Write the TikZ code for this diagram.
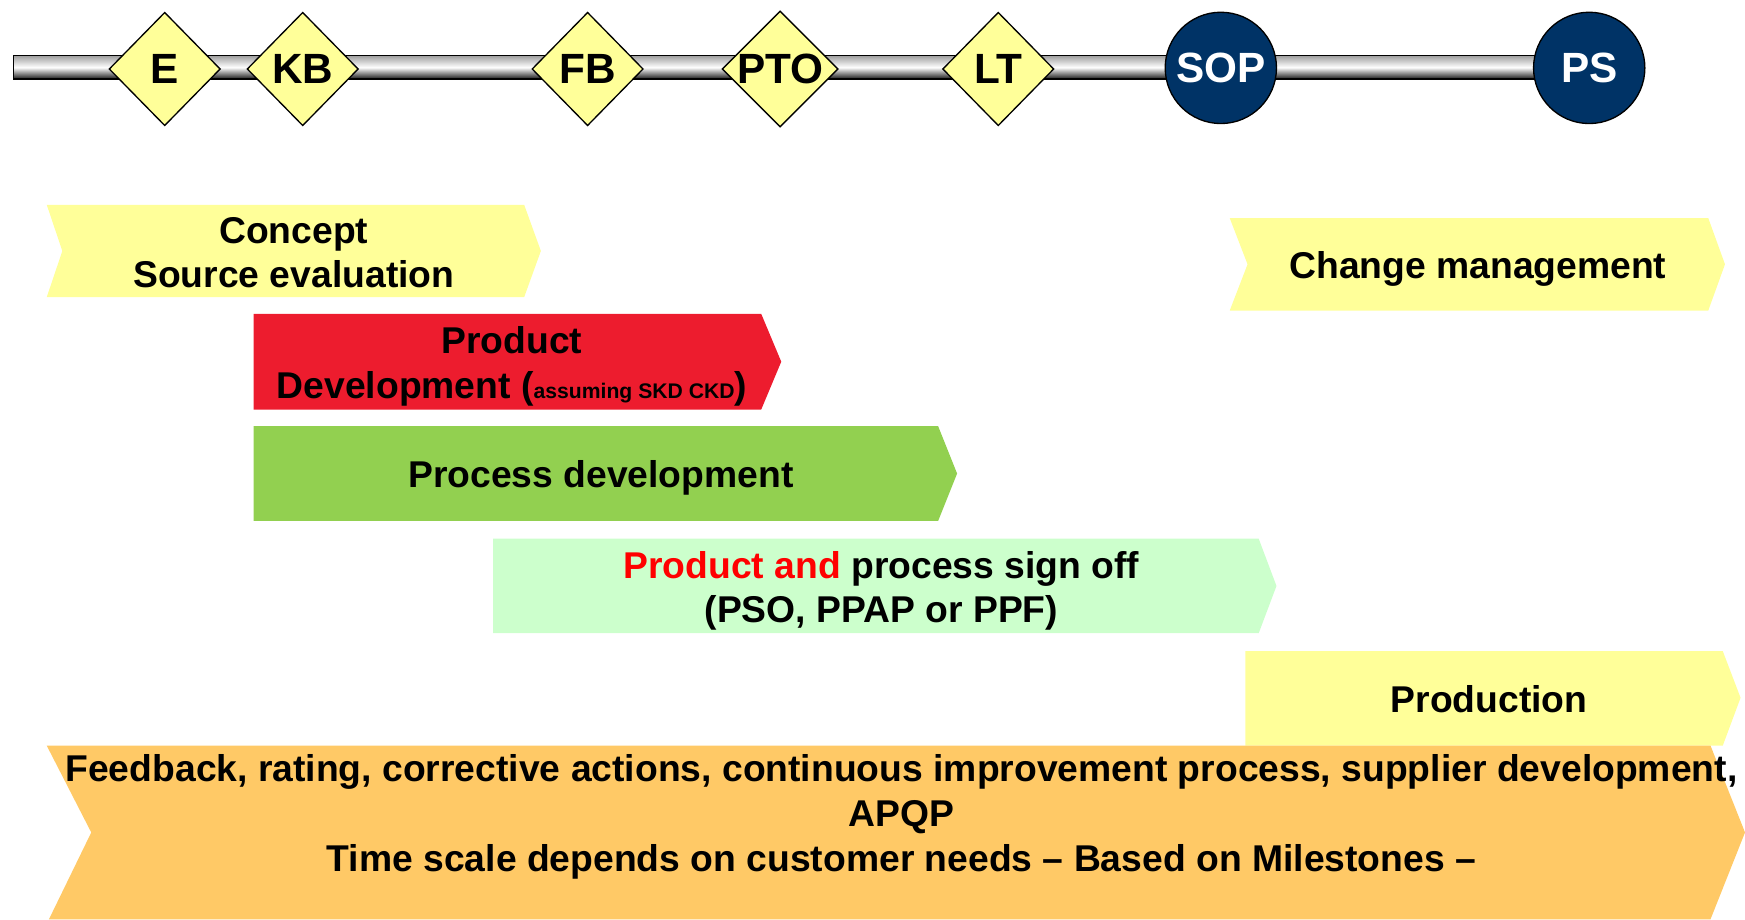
\documentclass[tikz,border=0pt]{standalone}
\usepackage{fontspec}
\setmainfont{Liberation Sans}
\usetikzlibrary{shapes.geometric}
\definecolor{msyellow}{RGB}{255,255,153}
\definecolor{msnavy}{RGB}{0,51,102}
\definecolor{pdred}{RGB}{237,28,46}
\definecolor{pdgreen}{RGB}{146,208,80}
\definecolor{sogreen}{RGB}{204,255,204}
\definecolor{fborange}{RGB}{255,201,102}
\newcommand{\phasefont}{\fontsize{16.75}{20}\selectfont\bfseries}
\newcommand{\msfont}{\fontsize{19}{22}\selectfont\bfseries}

\begin{document}
\begin{tikzpicture}[x=0.5pt, y=-0.5pt,
    milestone/.style={diamond, draw=black, line width=0.6pt, fill=msyellow,
      minimum width=50pt, minimum height=51pt, inner sep=0pt, font=\msfont},
    gate/.style={circle, draw=black, line width=0.6pt, fill=msnavy, text=white,
      minimum size=50pt, inner sep=0pt, font=\msfont},
    phase/.style={align=center, font=\phasefont}]
    \useasboundingbox (0,0) rectangle (1568,826);
    \draw[line width=0.5pt, top color=gray!75, bottom color=black!90, middle color=white]
      (12,50) rectangle (1428,71);
    \foreach \x/\lab in {148/E, 272/KB, 528/FB, 701/PTO, 897/LT}{
      \node[milestone] (ms\lab) at (\x,62) {\lab};
    }
    \foreach \x/\lab in {1097/SOP, 1428/PS}{
      \node[gate] (ms\lab) at (\x,61) {\lab};
    }
    \fill[msyellow] (42,184) -- (471,184) -- (486,225.5) -- (471,267) -- (42,267) -- (56,225.5) -- cycle;
    \node[phase] (concept) at (264,227) {Concept\\Source evaluation};
    \fill[pdred] (228,282) -- (684,282) -- (702,325) -- (684,368) -- (228,368) -- cycle;
    \node[phase] (proddev) at (460,329)
      {Product\\Development ({\fontsize{9.5}{20}\selectfont assuming SKD CKD})};
    \fill[pdgreen] (228,383) -- (843,383) -- (860,425.5) -- (843,468) -- (228,468) -- cycle;
    \node[phase] (procdev) at (540,429) {Process development};
    \fill[sogreen] (443,484) -- (1131,484) -- (1147,526.5) -- (1131,569) -- (443,569) -- cycle;
    \node[phase] (signoff) at (792,531)
      {{\color{red}Product and} process sign off\\(PSO, PPAP or PPF)};
    \fill[msyellow] (1105,196) -- (1535,196) -- (1550,237.5) -- (1535,279) -- (1105,279) -- (1121,237.5) -- cycle;
    \node[phase] (changemgmt) at (1328,242) {Change management};
    \fill[msyellow] (1119,585) -- (1548,585) -- (1564,627) -- (1548,670) -- (1119,670) -- cycle;
    \node[phase] (production) at (1338,628) {Production};
    \fill[fborange] (42,670) -- (1537,670) -- (1568,748) -- (1537,826) -- (44,826) -- (82,748) -- cycle;
    \node[phase] (feedback) at (810,734)
      {Feedback, rating, corrective actions, continuous improvement process, supplier development,\\
       APQP\\Time scale depends on customer needs – Based on Milestones –};
\end{tikzpicture}
\end{document}
